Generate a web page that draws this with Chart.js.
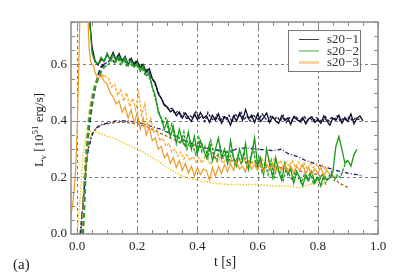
<!DOCTYPE html>
<html>
<head>
<meta charset="utf-8">
<script src="https://cdn.jsdelivr.net/npm/chart.js@4"></script>
<style>html,body{margin:0;padding:0;background:#fff}canvas{display:block}</style>
</head>
<body>
<canvas id="c" width="399" height="279"></canvas>
<script>
// --- helpers ---
const range = (a, b, step) => {
  const out = [];
  for (let i = 0; a + i * step <= b + 1e-9; i++) out.push(+(a + i * step).toFixed(3));
  return out;
};
const pts = (t, v) => v.map((y, i) => ({ x: t[i], y }));

// --- ejes ---
const xTicks = [0, 0.2, 0.4, 0.6, 0.8, 1.0];
const yTicks = [0, 0.2, 0.4, 0.6];
const xGrid = [0, 0.2, 0.4, 0.6, 0.8];
const yGrid = [0.2, 0.4, 0.6];

// s20-1
const tE1 = range(0.04, 0.95, 0.01);
const e1 = [
  0.78, 0.66, 0.612, 0.598, 0.618, 0.612, 0.635, 0.618, 0.642, 0.615,
  0.638, 0.61, 0.628, 0.6, 0.622, 0.598, 0.612, 0.588, 0.6, 0.572,
  0.585, 0.55, 0.535, 0.495, 0.48, 0.455, 0.45, 0.432, 0.44, 0.418,
  0.432, 0.41, 0.428, 0.412, 0.398, 0.425, 0.405, 0.43, 0.41, 0.418,
  0.395, 0.42, 0.402, 0.425, 0.392, 0.415, 0.408, 0.385, 0.418, 0.40,
  0.428, 0.402, 0.44, 0.408, 0.42, 0.395, 0.425, 0.398, 0.412, 0.428,
  0.395, 0.415, 0.4, 0.392, 0.418, 0.402, 0.41, 0.388, 0.415, 0.405,
  0.398, 0.412, 0.39, 0.408, 0.415, 0.395, 0.405, 0.392, 0.418, 0.4,
  0.385, 0.41, 0.402, 0.42, 0.392, 0.412, 0.398, 0.425, 0.39, 0.41,
  0.418, 0.4
];
const tBar1 = [0.015, 0.02, 0.025, 0.03, 0.04, 0.05, 0.06, 0.07, 0.08, 0.09].concat(range(0.105, 0.945, 0.01));
const bar1 = [
  0, 0.08, 0.18, 0.27, 0.38, 0.46, 0.52, 0.56, 0.59, 0.60,
  0.61, 0.625, 0.605, 0.63, 0.612, 0.62, 0.6, 0.618, 0.602, 0.61,
  0.595, 0.6, 0.578, 0.582, 0.56, 0.54, 0.515, 0.49, 0.47, 0.452,
  0.44, 0.445, 0.425, 0.435, 0.415, 0.428, 0.405, 0.42, 0.41, 0.432,
  0.408, 0.418, 0.398, 0.43, 0.41, 0.402, 0.422, 0.398, 0.415, 0.405,
  0.42, 0.395, 0.425, 0.412, 0.43, 0.405, 0.418, 0.4, 0.422, 0.41,
  0.405, 0.425, 0.41, 0.398, 0.42, 0.405, 0.415, 0.4, 0.42, 0.395,
  0.412, 0.4, 0.418, 0.405, 0.395, 0.415, 0.402, 0.41, 0.398, 0.412,
  0.405, 0.395, 0.415, 0.4, 0.412, 0.405, 0.418, 0.398, 0.41, 0.402,
  0.415, 0.4, 0.41, 0.405, 0.412
];
const tX1 = [0.01, 0.02, 0.025, 0.03, 0.036, 0.045, 0.052, 0.065, 0.075, 0.09, 0.11, 0.13, 0.15, 0.17, 0.2, 0.22, 0.25, 0.28, 0.3, 0.33, 0.37, 0.4, 0.45, 0.5, 0.53, 0.56, 0.6, 0.65, 0.68, 0.7, 0.73, 0.76, 0.8, 0.83, 0.86, 0.9, 0.93, 0.95];
const x1 = [0.0, 0.1, 0.17, 0.23, 0.29, 0.33, 0.355, 0.375, 0.385, 0.39, 0.395, 0.4, 0.4, 0.4, 0.395, 0.39, 0.38, 0.37, 0.36, 0.345, 0.325, 0.31, 0.3, 0.29, 0.3, 0.305, 0.3, 0.295, 0.3, 0.285, 0.275, 0.26, 0.245, 0.235, 0.225, 0.215, 0.21, 0.205];

// s20-2
const tE2 = range(0.04, 0.93, 0.01);
const e2 = [
  0.78, 0.64, 0.608, 0.602, 0.625, 0.61, 0.64, 0.615, 0.635, 0.61,
  0.63, 0.605, 0.625, 0.595, 0.615, 0.59, 0.605, 0.575, 0.595, 0.56,
  0.565, 0.52, 0.49, 0.43, 0.41, 0.37, 0.4, 0.345, 0.38, 0.32,
  0.37, 0.33, 0.31, 0.36, 0.3, 0.345, 0.285, 0.33, 0.3, 0.27,
  0.32, 0.26, 0.3, 0.34, 0.27, 0.3, 0.25, 0.33, 0.27, 0.24,
  0.3, 0.26, 0.32, 0.23, 0.28, 0.34, 0.24, 0.27, 0.21, 0.3,
  0.25, 0.2, 0.27, 0.22, 0.19, 0.25, 0.21, 0.23, 0.18, 0.22,
  0.2, 0.17, 0.21, 0.19, 0.22, 0.18, 0.2, 0.17, 0.21, 0.19,
  0.2, 0.22, 0.31, 0.345, 0.3, 0.25, 0.26, 0.24, 0.28, 0.3
];
const tBar2 = [0.02, 0.025, 0.03, 0.035, 0.04, 0.05, 0.06, 0.07, 0.08, 0.09].concat(range(0.105, 0.895, 0.01));
const bar2 = [
  0, 0.12, 0.25, 0.33, 0.40, 0.47, 0.52, 0.55, 0.575, 0.59,
  0.6, 0.615, 0.605, 0.625, 0.6, 0.618, 0.595, 0.61, 0.59, 0.6,
  0.585, 0.59, 0.565, 0.57, 0.54, 0.5, 0.46, 0.42, 0.39, 0.41,
  0.36, 0.39, 0.34, 0.35, 0.32, 0.36, 0.3, 0.33, 0.31, 0.28,
  0.34, 0.29, 0.31, 0.27, 0.33, 0.28, 0.26, 0.31, 0.27, 0.29,
  0.26, 0.3, 0.24, 0.28, 0.25, 0.29, 0.23, 0.26, 0.31, 0.24,
  0.27, 0.22, 0.25, 0.21, 0.26, 0.2, 0.24, 0.22, 0.19, 0.23,
  0.21, 0.19, 0.22, 0.2, 0.18, 0.21, 0.19, 0.22, 0.18, 0.2,
  0.19, 0.21, 0.18, 0.2, 0.22, 0.19, 0.21, 0.2, 0.23, 0.26
];
const tX2 = [0.012, 0.02, 0.03, 0.04, 0.05, 0.06, 0.08, 0.1, 0.13, 0.16, 0.2, 0.23, 0.26, 0.29, 0.32, 0.35, 0.38, 0.41, 0.43, 0.46, 0.5, 0.55, 0.6, 0.65, 0.7, 0.75, 0.8, 0.83, 0.85, 0.87, 0.9];
const x2 = [0.0, 0.12, 0.25, 0.32, 0.355, 0.37, 0.385, 0.39, 0.395, 0.395, 0.39, 0.38, 0.365, 0.35, 0.335, 0.32, 0.31, 0.325, 0.3, 0.28, 0.26, 0.255, 0.25, 0.24, 0.23, 0.22, 0.21, 0.19, 0.21, 0.18, 0.165];

// s20-3
const tE3 = [-0.02, -0.015, -0.01, -0.005, 0.0, 0.005, 0.01, 0.02, 0.03, 0.035, 0.04, 0.045, 0.05, 0.055, 0.06, 0.07, 0.08, 0.09].concat(range(0.10, 0.84, 0.01));
const e3 = [
  0.07, 0.1, 0.15, 0.22, 0.35, 0.55, 0.8, 0.9, 0.9, 0.8, 0.66, 0.61, 0.6, 0.595, 0.57, 0.55, 0.56, 0.54,
  0.53, 0.5, 0.485, 0.46, 0.47, 0.43, 0.45, 0.41, 0.44, 0.39,
  0.43, 0.37, 0.41, 0.35, 0.38, 0.33, 0.34, 0.3, 0.31, 0.27,
  0.285, 0.25, 0.27, 0.235, 0.26, 0.225, 0.25, 0.215, 0.24, 0.205,
  0.235, 0.21, 0.23, 0.225, 0.19, 0.235, 0.205, 0.24, 0.215, 0.245,
  0.22, 0.25, 0.225, 0.255, 0.23, 0.24, 0.22, 0.255, 0.23, 0.245,
  0.225, 0.25, 0.22, 0.245, 0.23, 0.25, 0.22, 0.24, 0.225, 0.245,
  0.22, 0.24, 0.215, 0.24, 0.225, 0.245, 0.215, 0.235, 0.21, 0.23,
  0.215, 0.235, 0.205, 0.225, 0.21
];
const tBar3 = [0.018, 0.022, 0.026, 0.03, 0.035, 0.04, 0.05, 0.06, 0.07, 0.08, 0.09].concat(range(0.105, 0.835, 0.01));
const bar3 = [
  0, 0.1, 0.2, 0.28, 0.36, 0.42, 0.49, 0.53, 0.55, 0.56, 0.56,
  0.55, 0.52, 0.53, 0.49, 0.51, 0.47, 0.5, 0.45, 0.48, 0.44,
  0.5, 0.42, 0.46, 0.38, 0.41, 0.36, 0.37, 0.33, 0.34, 0.31,
  0.32, 0.29, 0.3, 0.275, 0.29, 0.265, 0.28, 0.26, 0.275, 0.255,
  0.27, 0.25, 0.275, 0.26, 0.245, 0.275, 0.255, 0.27, 0.25, 0.265,
  0.25, 0.27, 0.255, 0.275, 0.25, 0.265, 0.245, 0.27, 0.25, 0.26,
  0.245, 0.265, 0.25, 0.26, 0.24, 0.265, 0.245, 0.26, 0.24, 0.255,
  0.24, 0.26, 0.235, 0.255, 0.24, 0.25, 0.23, 0.25, 0.235, 0.245,
  0.23, 0.245, 0.225, 0.24
];
const tX3 = [0.0, 0.01, 0.02, 0.03, 0.04, 0.06, 0.08, 0.1, 0.12, 0.15, 0.18, 0.2, 0.22, 0.25, 0.28, 0.3, 0.33, 0.36, 0.4, 0.45, 0.5, 0.55, 0.6, 0.65, 0.7, 0.74, 0.77, 0.8, 0.83];
const x3 = [0.0, 0.12, 0.28, 0.35, 0.365, 0.36, 0.355, 0.345, 0.34, 0.325, 0.31, 0.3, 0.29, 0.27, 0.25, 0.235, 0.215, 0.2, 0.19, 0.18, 0.175, 0.175, 0.175, 0.17, 0.17, 0.163, 0.175, 0.18, 0.175];

const legendNames = ['s20\u22121', 's20\u22122', 's20\u22123'];
const legendColors = ['#444', '#44aa44', '#fbd4a6'];
const legendWidths = [1, 1, 3];

// --- estilos ---
const SERIF = '"Liberation Serif", "Times New Roman", serif';
const RISE_END = 0.09; // tramo de subida con trazo grueso
const line = (data, color, width, dash) => ({
  data, borderColor: color, borderWidth: width, borderDash: dash || [],
  pointRadius: 0, fill: false, clip: 0, tension: 0
});
const risingLine = (data, color, width, dash) => Object.assign(line(data, color, width, dash), {
  segment: {
    borderDash: c => c.p1.parsed.x <= RISE_END ? [5, 3] : undefined,
    borderWidth: c => c.p1.parsed.x <= RISE_END ? 2.2 : undefined
  }
});

const frame = {
  id: 'frame',
  beforeDatasetsDraw(chart) {
    const { ctx, chartArea: a, scales: { x, y } } = chart;
    ctx.save();
    ctx.strokeStyle = '#7a7a7a';
    ctx.lineWidth = 1;
    ctx.setLineDash([3, 3]);
    ctx.beginPath();
    xGrid.forEach(v => { const p = Math.round(x.getPixelForValue(v)) + 0.5; ctx.moveTo(p, a.top); ctx.lineTo(p, a.bottom); });
    yGrid.forEach(v => { const p = Math.round(y.getPixelForValue(v)) + 0.5; ctx.moveTo(a.left, p); ctx.lineTo(a.right, p); });
    ctx.stroke();
    ctx.restore();
  },
  afterDatasetsDraw(chart) {
    const { ctx, chartArea: a, scales: { x, y } } = chart;
    ctx.save();
    // marco + ticks hacia adentro
    ctx.strokeStyle = '#8a8a8a';
    ctx.lineWidth = 1.5;
    ctx.strokeRect(a.left, a.top, a.right - a.left, a.bottom - a.top);
    ctx.lineWidth = 1;
    ctx.beginPath();
    const isMajor = v => Math.abs(v / 0.2 - Math.round(v / 0.2)) < 1e-6;
    range(0, 1.0, 0.05).forEach(v => {
      const p = Math.round(x.getPixelForValue(v)) + 0.5, l = isMajor(v) ? 6 : 4;
      ctx.moveTo(p, a.bottom); ctx.lineTo(p, a.bottom - l);
      ctx.moveTo(p, a.top); ctx.lineTo(p, a.top + l);
    });
    range(0, 0.75, 0.05).forEach(v => {
      const p = Math.round(y.getPixelForValue(v)) + 0.5, l = isMajor(v) ? 6 : 4;
      ctx.moveTo(a.left, p); ctx.lineTo(a.left + l, p);
      ctx.moveTo(a.right, p); ctx.lineTo(a.right - l, p);
    });
    ctx.stroke();

    // leyenda
    ctx.fillStyle = '#fff';
    ctx.fillRect(288, 30, 72, 41);
    ctx.strokeStyle = '#777';
    ctx.strokeRect(288.5, 30.5, 72, 41);
    ctx.font = '13px ' + SERIF;
    ctx.textBaseline = 'middle';
    legendNames.forEach((n, i) => {
      const yy = 39.5 + i * 11.5;
      ctx.strokeStyle = legendColors[i];
      ctx.lineWidth = legendWidths[i];
      ctx.beginPath(); ctx.moveTo(299, yy); ctx.lineTo(319, yy); ctx.stroke();
      ctx.fillStyle = '#333';
      ctx.fillText(n, 327, yy + 0.5);
    });

    // títulos
    ctx.fillStyle = '#222';
    ctx.textBaseline = 'alphabetic';
    ctx.font = '14px ' + SERIF;
    ctx.textAlign = 'center';
    ctx.fillText('t [s]', 225, 266);
    ctx.textAlign = 'left';
    ctx.font = '15px ' + SERIF;
    ctx.fillText('(a)', 13, 269);

    const parts = [['L', 13, 0], ['\u03bd', 9, 3], [' [10', 13, 0], ['51', 9, -5], [' erg/s]', 13, 0]];
    const w = parts.reduce((s, p) => { ctx.font = p[1] + 'px ' + SERIF; return s + ctx.measureText(p[0]).width; }, 0);
    ctx.translate(43, (a.top + a.bottom) / 2 + 2);
    ctx.rotate(-Math.PI / 2);
    let cx = -w / 2;
    parts.forEach(p => {
      ctx.font = p[1] + 'px ' + SERIF;
      ctx.fillText(p[0], cx, p[2]);
      cx += ctx.measureText(p[0]).width;
    });
    ctx.restore();
  }
};

new Chart(document.getElementById('c'), {
  type: 'line',
  data: {
    datasets: [
      line(pts(tE3, e3), '#ee9a22', 1.2),
      line(pts(tE2, e2), '#199a19', 1.3),
      risingLine(pts(tBar2, bar2), '#2a9a2a', 1.4, [3, 1.5]),
      line(pts(tE1, e1), '#0c0c24', 1.3),
      risingLine(pts(tBar3, bar3), '#f4ac36', 1.3, [3, 1.5]),
      risingLine(pts(tBar1, bar1), '#1a1a5a', 1.3, [3, 1.5]),
      line(pts(tX1, x1), '#1c1c70', 1.3, [4, 2, 1, 2]),
      line(pts(tX2, x2), '#9a6a2a', 1.3, [3, 2]),
      line(pts(tX3, x3), '#f5c518', 1.4, [1.5, 1.5])
    ]
  },
  options: {
    responsive: false,
    animation: false,
    layout: { padding: { top: 22, right: 21, left: 0, bottom: 0 } },
    plugins: { legend: { display: false }, tooltip: { enabled: false } },
    scales: {
      x: {
        type: 'linear', min: -0.02, max: 1.0,
        grid: { display: false, drawTicks: false },
        border: { display: false },
        afterBuildTicks: s => { s.ticks = xTicks.map(v => ({ value: v })); },
        afterFit: s => { s.height = 45; },
        ticks: { padding: 5, maxRotation: 0, autoSkip: false, color: '#222', font: { family: SERIF, size: 13 }, callback: v => v.toFixed(1) }
      },
      y: {
        type: 'linear', min: 0, max: 0.75,
        grid: { display: false, drawTicks: false },
        border: { display: false },
        afterBuildTicks: s => { s.ticks = yTicks.map(v => ({ value: v })); },
        afterFit: s => { s.width = 71; },
        ticks: { padding: 4, autoSkip: false, color: '#222', font: { family: SERIF, size: 13 }, callback: v => v.toFixed(1) }
      }
    }
  },
  plugins: [frame]
});
</script>
</body>
</html>
